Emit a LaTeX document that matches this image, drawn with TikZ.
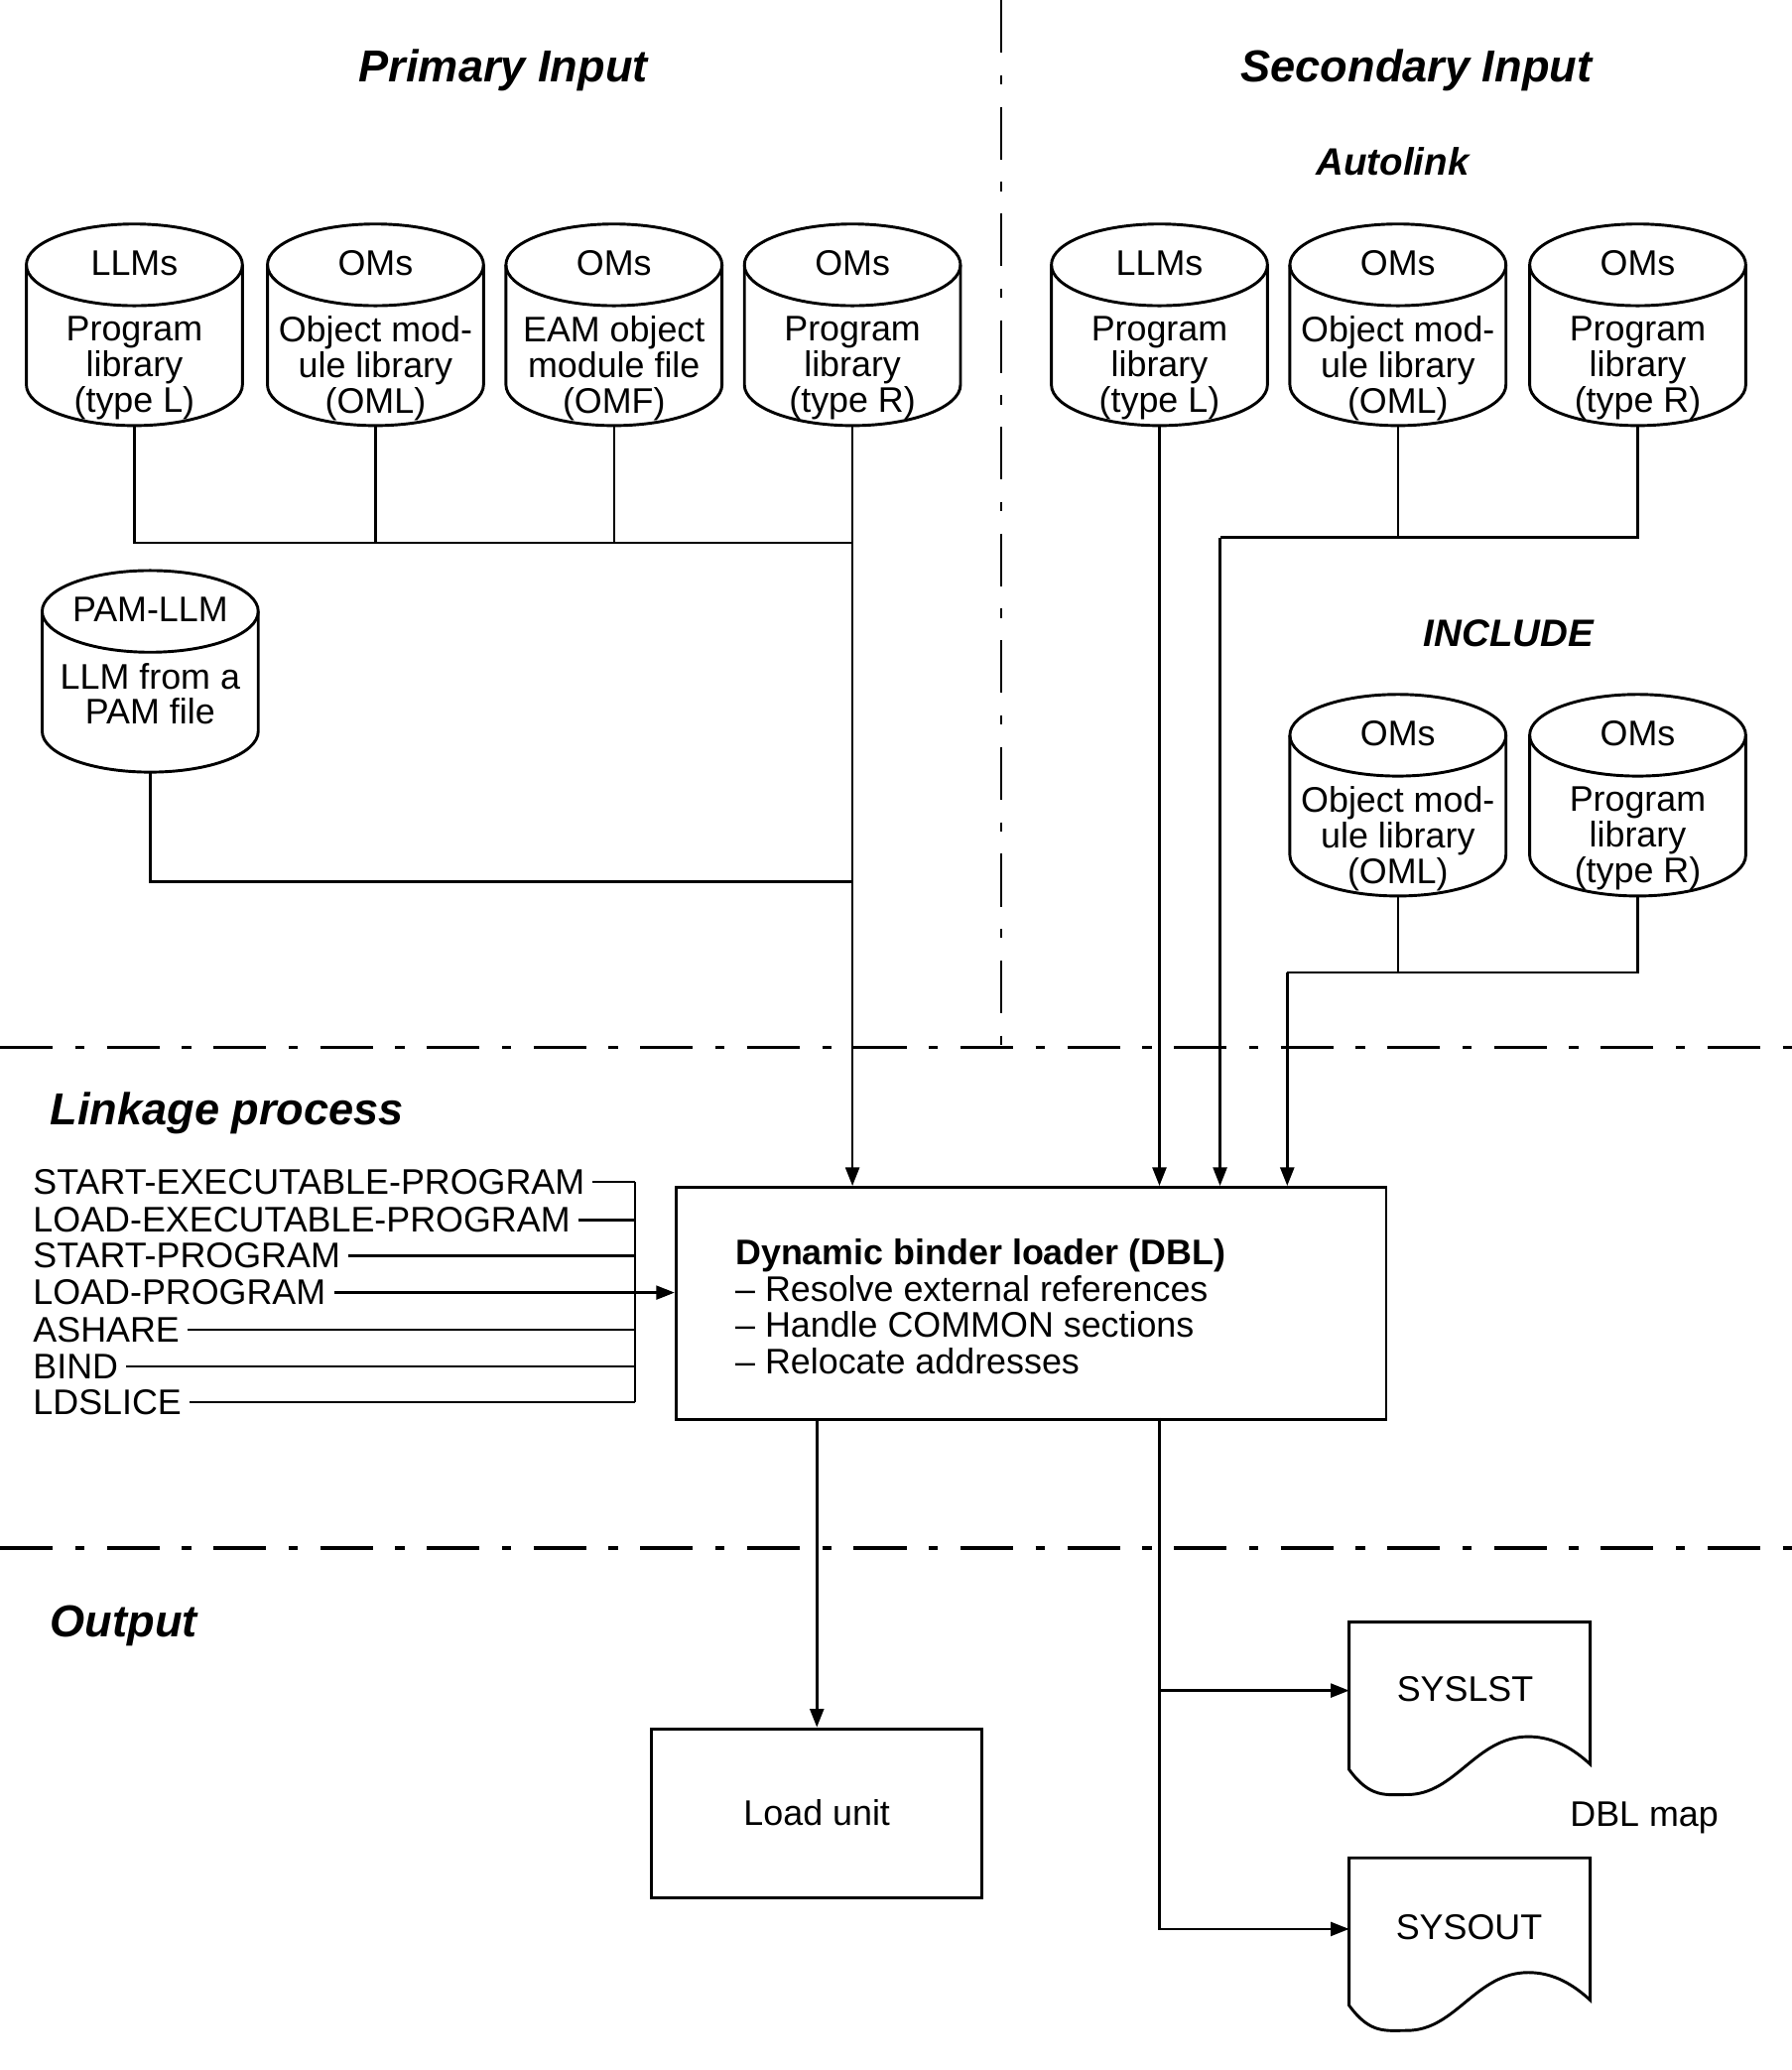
\documentclass[tikz,border=0pt]{standalone}
\usepackage{fontspec}
\setmainfont{Liberation Sans}
\usetikzlibrary{arrows.meta}
\tikzset{
 shp/.style={line width=2.2pt},
 con/.style={line width=1.9pt},
 arr/.style={con, -{Triangle[length=14pt,width=10.5pt]}},
 box/.style={draw, line width=2.2pt},
 txt/.style={font=\fontsize{27}{27}\selectfont, inner sep=0pt},
 ttl/.style={font=\fontsize{34}{34}\selectfont\bfseries\itshape, inner sep=0pt},
 sttl/.style={font=\fontsize{29}{29}\selectfont\bfseries\itshape, inner sep=0pt},
 divider/.style={line width=2pt, dash pattern=on 40pt off 17pt on 7pt off 17pt},
}
\newcommand\dbcyl[5]{%
 \draw[shp] (#2,#3+31) ellipse [x radius=82, y radius=31];
 \draw[shp] (#2-82,#3+31) -- (#2-82,#3+122) .. controls (#2-82,#3+139.1) and (#2-45.3,#3+153) .. (#2,#3+153) .. controls (#2+45.3,#3+153) and (#2+82,#3+139.1) .. (#2+82,#3+122) -- (#2+82,#3+31);
 \node[txt, anchor=base] (#1-top) at (#2,#3+39) {#4};
 \node[txt, anchor=north, align=center] (#1) at (#2,#3+70) {#5};
 \coordinate (#1-b) at (#2,#3+153);
}
\begin{document}
\begin{tikzpicture}[x=1pt,y=-1pt]
\fill[white] (0,0) rectangle (1360,1571);
\useasboundingbox (0,0) rectangle (1360,1571);

% dividers
\draw[divider] (760,0) -- (760,795);
\draw[divider] (0,795) -- (1360,795);
\draw[divider, line width=3.2pt] (0,1175) -- (1360,1175);

% titles
\node[ttl, anchor=base] (prim) at (382,62) {Primary Input};
\node[ttl, anchor=base] (sec) at (1075,62) {Secondary Input};
\node[sttl, anchor=base] (auto) at (1057,133) {Autolink};
\node[sttl, anchor=base] (incl) at (1145,491) {INCLUDE};
\node[ttl, anchor=base west] (link) at (38,854) {Linkage process};
\node[ttl, anchor=base west] (outp) at (38,1242) {Output};

% primary input cylinders
\dbcyl{p1}{102}{170}{LLMs}{Program\\library\\(type L)}
\dbcyl{p2}{285}{170}{OMs}{Object mod-\\ule library\\(OML)}
\dbcyl{p3}{466}{170}{OMs}{EAM object\\module file\\(OMF)}
\dbcyl{p4}{647}{170}{OMs}{Program\\library\\(type R)}
\dbcyl{pam}{114}{433}{PAM-LLM}{LLM from a\\PAM file}

% secondary input cylinders
\dbcyl{s1}{880}{170}{LLMs}{Program\\library\\(type L)}
\dbcyl{s2}{1061}{170}{OMs}{Object mod-\\ule library\\(OML)}
\dbcyl{s3}{1243}{170}{OMs}{Program\\library\\(type R)}
\dbcyl{i1}{1061}{527}{OMs}{Object mod-\\ule library\\(OML)}
\dbcyl{i2}{1243}{527}{OMs}{Program\\library\\(type R)}

% DBL box
\node[box, minimum width=539pt, minimum height=176pt, anchor=north west] (dbl) at (512,900) {};
\node[txt, font=\fontsize{27}{27.7}\selectfont, anchor=north west, align=left] (dbltxt) at (558,940) {\textbf{Dynamic binder loader (DBL)}\\– Resolve external references\\– Handle COMMON sections\\– Relocate addresses};

% primary connectors
\coordinate (pbus) at (647,412);
\coordinate (pambus) at (647,669);
\draw[con] (p1-b) |- (pbus);
\draw[con] (p2-b) -- (p2-b |- pbus);
\draw[con] (p3-b) -- (p3-b |- pbus);
\draw[con] (pam-b) |- (pambus);
\draw[arr] (p4-b) -- (p4-b |- dbl.north);

% secondary connectors
\coordinate (sbus) at (926,408);
\coordinate (ibus) at (977,738);
\draw[arr] (s1-b) -- (s1-b |- dbl.north);
\draw[con] (s3-b) |- (sbus);
\draw[con] (s2-b) -- (s2-b |- sbus);
\draw[arr] (sbus) -- (sbus |- dbl.north);
\draw[con] (i2-b) |- (ibus);
\draw[con] (i1-b) -- (i1-b |- ibus);
\draw[arr] (ibus) -- (ibus |- dbl.north);

% commands
\node[txt, anchor=west] (c1) at (25,897) {START-EXECUTABLE-PROGRAM};
\node[txt, anchor=west] (c2) at (25,926) {LOAD-EXECUTABLE-PROGRAM};
\node[txt, anchor=west] (c3) at (25,953) {START-PROGRAM};
\node[txt, anchor=west] (c4) at (25,981) {LOAD-PROGRAM};
\node[txt, anchor=west] (c5) at (25,1009) {ASHARE};
\node[txt, anchor=west] (c6) at (25,1037) {BIND};
\node[txt, anchor=west] (c7) at (25,1064) {LDSLICE};
\coordinate (bus) at (482,0);
\draw[con] (c1.east -| bus) -- (c7.east -| bus);
\foreach \c in {c1,c2,c3,c5,c6,c7} {\draw[con, shorten <=6pt] (\c.east) -- (\c.east -| bus);}
\draw[arr, shorten <=6pt] (c4.east) -- (c4.east -| dbl.west);

% outputs
\node[box, txt, minimum width=251pt, minimum height=128pt] (lu) at (620,1376) {Load unit};
\draw[arr] (dbl.south -| lu.north) -- (lu.north);

\draw[shp] (1024,1231) -- (1207,1231) -- (1207,1339) .. controls (1195,1328) and (1180,1318) .. (1160,1318) .. controls (1120,1318) and (1105,1362) .. (1068,1362) .. controls (1052,1362) and (1040,1365) .. (1024,1343) -- cycle;
\draw[shp, shift={(0,179)}] (1024,1231) -- (1207,1231) -- (1207,1339) .. controls (1195,1328) and (1180,1318) .. (1160,1318) .. controls (1120,1318) and (1105,1362) .. (1068,1362) .. controls (1052,1362) and (1040,1365) .. (1024,1343) -- cycle;
\node[txt, anchor=base] (syslst) at (1112,1291) {SYSLST};
\node[txt, anchor=base] (sysout) at (1115,1472) {SYSOUT};
\node[txt, anchor=base] (dblmap) at (1248,1386) {DBL map};
\coordinate (lstin) at (1024,1283);
\coordinate (outin) at (1024,1464);
\coordinate (brt) at (880,1076);
\draw[arr] (brt) |- (outin);
\draw[arr] (brt |- lstin) -- (lstin);
\end{tikzpicture}
\end{document}
